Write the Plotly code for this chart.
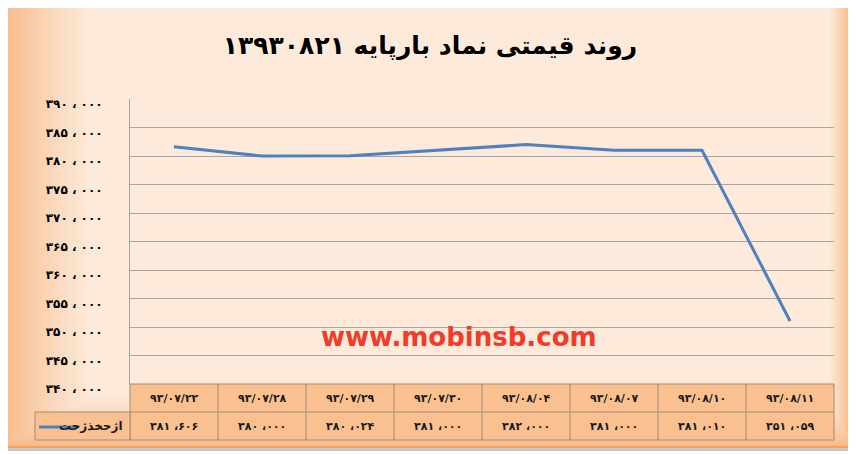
import plotly.graph_objects as go

# chart data
dates = ["۹۳/۰۷/۲۲", "۹۳/۰۷/۲۸", "۹۳/۰۷/۲۹", "۹۳/۰۷/۳۰",
         "۹۳/۰۸/۰۴", "۹۳/۰۸/۰۷", "۹۳/۰۸/۱۰", "۹۳/۰۸/۱۱"]
prices = [381606, 380000, 380024, 381000, 382000, 381000, 381010, 351059]
y_ticks = [340000, 345000, 350000, 355000, 360000, 365000,
           370000, 375000, 380000, 385000, 390000]
series_name = "اژحخذژحت"
title_text = "روند قیمتی نماد بارپایه ۱۳۹۳۰۸۲۱"
watermark = "www.mobinsb.com"

# the page puts the plot 8px in from the top/left, so lay out in page pixels
OFF = 8
W, H = 856 - OFF, 454 - OFF
L, T = 130 - OFF, 99 - OFF
PW, PH = 704, 285
R, B = W - L - PW, H - T - PH

FA = str.maketrans("0123456789", "۰۱۲۳۴۵۶۷۸۹")
FONT = "DejaVu Sans, Noto Sans, sans-serif"


def fa_num(v, sep):
    s = f"{v:,}".translate(FA)
    return s.replace(",", sep)


def px(x):
    return (x - OFF - L) / PW


def py(y):
    return (T + PH - (y - OFF)) / PH


def mix(c0, c1, t):
    return "rgb(%d,%d,%d)" % tuple(round(a + (b - a) * t) for a, b in zip(c0, c1))


fig = go.Figure()
fig.add_trace(go.Scatter(
    x=dates, y=prices, mode="lines", name=series_name,
    line=dict(color="#4F81BD", width=3), showlegend=False,
))

shapes = []
# drop shadow + frame with a soft orange gradient
shapes.append(dict(type="rect", xref="paper", yref="paper", layer="below",
                   x0=px(7), x1=px(853), y0=py(8), y1=py(451),
                   fillcolor="#C8C8C8", line=dict(width=0)))
edge, centre = (248, 186, 136), (253, 234, 218)
steps = 18
for i in range(steps):
    t = (i / (steps - 1)) ** 0.8
    shapes.append(dict(type="rect", xref="paper", yref="paper", layer="below",
                       x0=px(4 + i * 5), x1=px(850 - i * 1.2),
                       y0=py(447 - i * 3), y1=py(5),
                       fillcolor=mix(edge, centre, t), line=dict(width=0)))
shapes.append(dict(type="rect", xref="paper", yref="paper", layer="below",
                   x0=px(4), x1=px(850), y0=py(447), y1=py(5),
                   fillcolor="rgba(0,0,0,0)", line=dict(color="#F79646", width=1.5)))

# data table under the plot
row1_top, row1_bot, row2_bot = 384, 412, 440
cell_fill = "#FAC090"
grid_col = "#A08C78"
shapes.append(dict(type="rect", xref="paper", yref="paper", layer="below",
                   x0=px(130), x1=px(834), y0=py(row2_bot), y1=py(row1_top),
                   fillcolor=cell_fill, line=dict(color=grid_col, width=1)))
shapes.append(dict(type="rect", xref="paper", yref="paper", layer="below",
                   x0=px(35), x1=px(130), y0=py(row2_bot), y1=py(row1_bot),
                   fillcolor=cell_fill, line=dict(color=grid_col, width=1)))
shapes.append(dict(type="line", xref="paper", yref="paper", layer="below",
                   x0=px(130), x1=px(834), y0=py(row1_bot), y1=py(row1_bot),
                   line=dict(color=grid_col, width=1)))
for k in range(1, len(dates)):
    xx = k / len(dates)
    shapes.append(dict(type="line", xref="paper", yref="paper", layer="below",
                       x0=xx, x1=xx, y0=py(row2_bot), y1=py(row1_top),
                       line=dict(color=grid_col, width=1)))
# legend key in the table
shapes.append(dict(type="line", xref="paper", yref="paper", layer="below",
                   x0=px(39), x1=px(77), y0=py(427), y1=py(427),
                   line=dict(color="#4F81BD", width=3)))

annotations = []
for d, v in zip(dates, prices):
    annotations.append(dict(x=d, xref="x", y=py(398), yref="paper", text="<b>" + d + "</b>",
                            showarrow=False, font=dict(family=FONT, size=11, color="#1a1a1a"),
                            yanchor="middle"))
    annotations.append(dict(x=d, xref="x", y=py(426), yref="paper",
                            text="<b>" + fa_num(v, " ،") + "</b>", showarrow=False,
                            font=dict(family=FONT, size=11, color="#1a1a1a"),
                            yanchor="middle"))
annotations.append(dict(x=px(125), xref="paper", y=py(426), yref="paper",
                        text="<b>" + series_name + "</b>", showarrow=False,
                        xanchor="right", yanchor="middle",
                        font=dict(family=FONT, size=12, color="#1a1a1a")))
annotations.append(dict(x=px(459), xref="paper", y=py(337), yref="paper",
                        text="<b>" + watermark + "</b>", showarrow=False,
                        xanchor="center", yanchor="middle",
                        font=dict(family="DejaVu Sans", size=26, color="#F03C28")))

fig.update_layout(
    width=W, height=H,
    margin=dict(l=L, r=R, t=T, b=B, autoexpand=False),
    paper_bgcolor="white",
    plot_bgcolor="white",
    title=dict(text="<b>" + title_text + "</b>", x=(430 - OFF) / W, xref="container",
               xanchor="center", y=1 - (45 - OFF) / H, yref="container", yanchor="middle",
               font=dict(family=FONT, size=25, color="black")),
    shapes=shapes,
    annotations=annotations,
    xaxis=dict(type="category", range=[-0.5, len(dates) - 0.5], automargin=False,
               showticklabels=False, showgrid=False, zeroline=False, ticks=""),
    yaxis=dict(range=[340000, 390000], tickvals=y_ticks, automargin=False,
               ticktext=["<b>" + fa_num(v, " ، ") + "</b>" for v in y_ticks],
               tickfont=dict(family=FONT, size=12, color="black"),
               ticklabelstandoff=24, ticklabelshift=5,
               showgrid=True, gridcolor="#A6A6A6", gridwidth=1,
               showline=True, linecolor="#A6A6A6", linewidth=1,
               zeroline=False, ticks=""),
)

fig.write_html("out.html")
